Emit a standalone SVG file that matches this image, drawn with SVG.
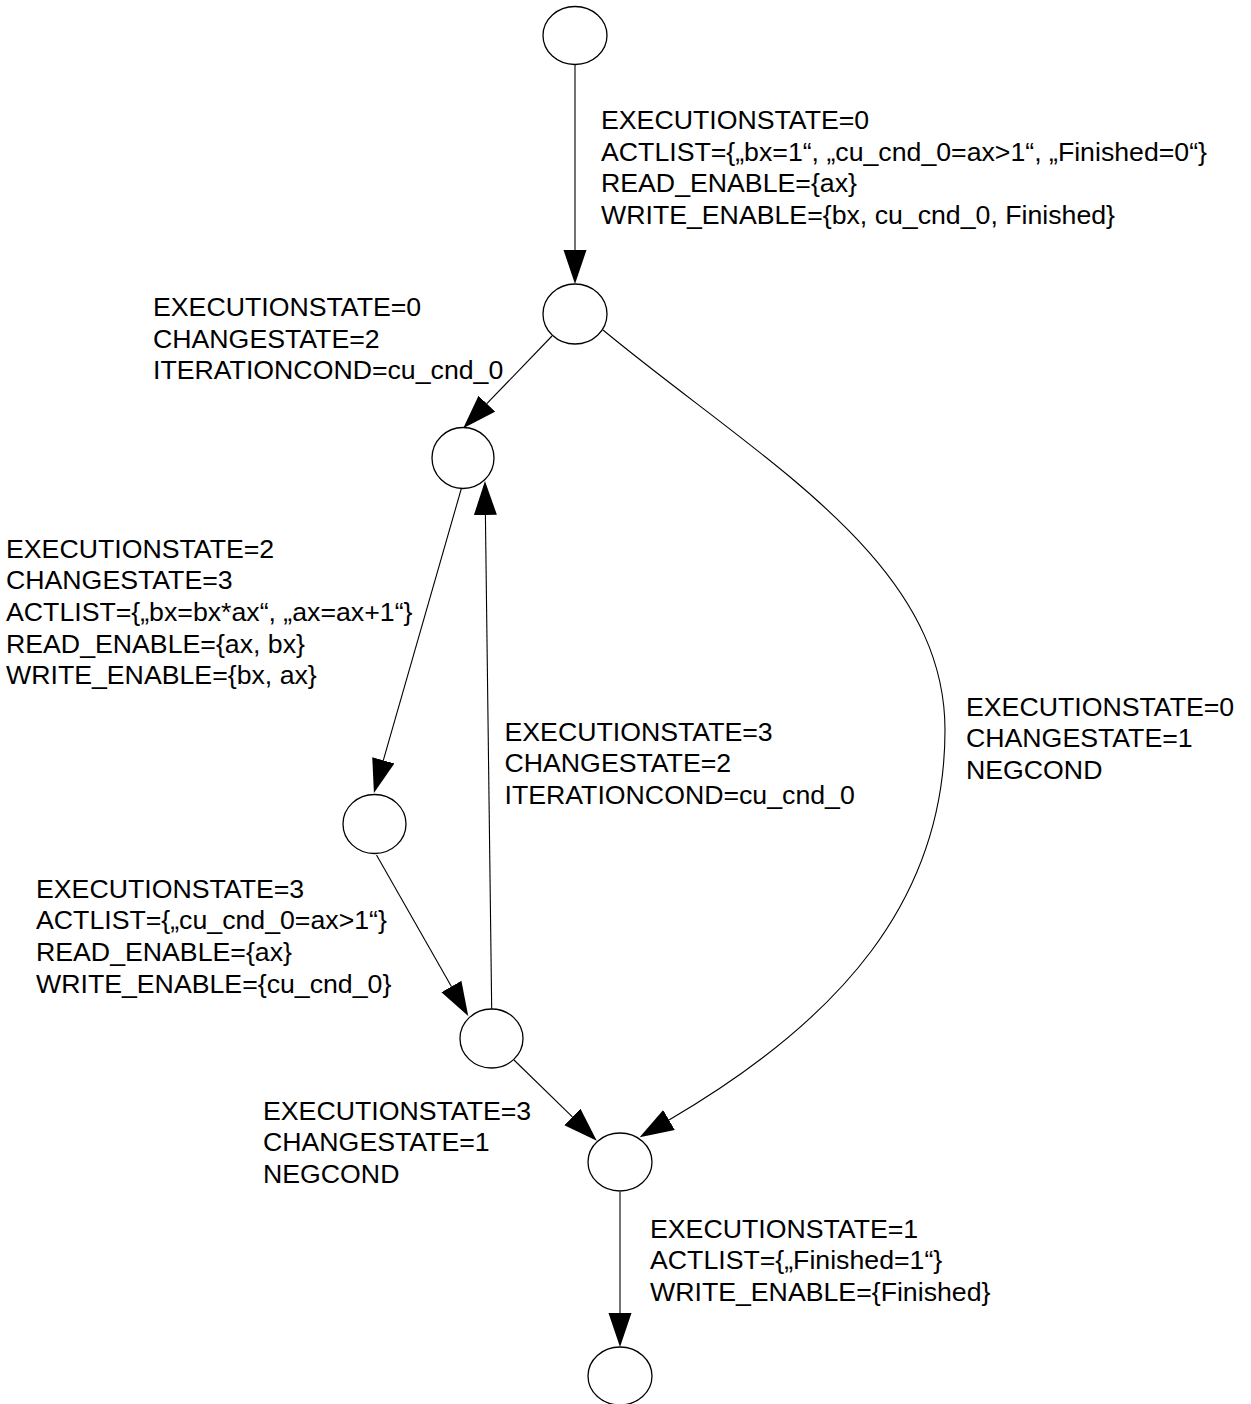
<svg xmlns="http://www.w3.org/2000/svg" width="1251" height="1404" viewBox="0 0 1251 1404">
  <style>
    .state { fill: #ffffff; stroke: #000000; stroke-width: 1.3; }
    .edge { fill: none; stroke: #000000; stroke-width: 1.1; }
    .label { font-family: "Liberation Sans", Arial, sans-serif; font-size: 26.7px; fill: #000000; }
  </style>
  <defs>
    <marker id="arrow" markerUnits="userSpaceOnUse" markerWidth="36" markerHeight="25" refX="0" refY="11.5" orient="auto">
      <path d="M0,0 L34,11.5 L0,23 Z" fill="#000000"/>
    </marker>
  </defs>
  <rect x="0" y="0" width="1251" height="1404" fill="#ffffff"/>

  <!-- transitions -->
  <g id="edges">
    <path id="e_start_s0" class="edge" d="M575,65 L575,250" marker-end="url(#arrow)"/>
    <path id="e_s0_s2" class="edge" d="M552,336 L486.8,403.7" marker-end="url(#arrow)"/>
    <path id="e_s2_s3" class="edge" d="M461.5,488 L383.3,760.3" marker-end="url(#arrow)"/>
    <path id="e_s3b_s2" class="edge" d="M491.7,1009 L485.4,515" marker-end="url(#arrow)"/>
    <path id="e_s3_s3b" class="edge" d="M376.5,855 L451.4,986.5" marker-end="url(#arrow)"/>
    <path id="e_s3b_s1" class="edge" d="M514,1060 L572.4,1116.9" marker-end="url(#arrow)"/>
    <path id="e_s0_s1" class="edge" d="M603,330 C760,460 945,560 945,730 C945,900 840,1020 669,1120" marker-end="url(#arrow)"/>
    <path id="e_s1_end" class="edge" d="M620,1192 L620,1313" marker-end="url(#arrow)"/>
  </g>

  <!-- states -->
  <g id="n_start"><ellipse class="state" cx="575" cy="35.5" rx="32" ry="29"/></g>
  <g id="n_s0"><ellipse class="state" cx="575" cy="314" rx="32" ry="30"/></g>
  <g id="n_s2"><ellipse class="state" cx="463" cy="458" rx="31" ry="30.5"/></g>
  <g id="n_s3"><ellipse class="state" cx="374.5" cy="824" rx="31.5" ry="29.5"/></g>
  <g id="n_s3b"><ellipse class="state" cx="491.5" cy="1038.5" rx="31.5" ry="29.5"/></g>
  <g id="n_s1"><ellipse class="state" cx="620" cy="1162" rx="32" ry="29"/></g>
  <g id="n_end"><ellipse class="state" cx="620" cy="1376" rx="32" ry="29"/></g>

  <!-- transition labels -->
  <g id="labels">
    <text class="label" x="601" y="129">
      <tspan x="601">EXECUTIONSTATE=0</tspan>
      <tspan x="601" dy="31.7">ACTLIST={„bx=1“, „cu_cnd_0=ax&gt;1“, „Finished=0“}</tspan>
      <tspan x="601" dy="31.7">READ_ENABLE={ax}</tspan>
      <tspan x="601" dy="31.7">WRITE_ENABLE={bx, cu_cnd_0, Finished}</tspan>
    </text>
    <text class="label" x="153" y="316">
      <tspan x="153">EXECUTIONSTATE=0</tspan>
      <tspan x="153" dy="31.7">CHANGESTATE=2</tspan>
      <tspan x="153" dy="31.7">ITERATIONCOND=cu_cnd_0</tspan>
    </text>
    <text class="label" x="6" y="557.5">
      <tspan x="6">EXECUTIONSTATE=2</tspan>
      <tspan x="6" dy="31.7">CHANGESTATE=3</tspan>
      <tspan x="6" dy="31.7">ACTLIST={„bx=bx*ax“, „ax=ax+1“}</tspan>
      <tspan x="6" dy="31.7">READ_ENABLE={ax, bx}</tspan>
      <tspan x="6" dy="31.7">WRITE_ENABLE={bx, ax}</tspan>
    </text>
    <text class="label" x="504.5" y="740.5">
      <tspan x="504.5">EXECUTIONSTATE=3</tspan>
      <tspan x="504.5" dy="31.7">CHANGESTATE=2</tspan>
      <tspan x="504.5" dy="31.7">ITERATIONCOND=cu_cnd_0</tspan>
    </text>
    <text class="label" x="966" y="715.5">
      <tspan x="966">EXECUTIONSTATE=0</tspan>
      <tspan x="966" dy="31.7">CHANGESTATE=1</tspan>
      <tspan x="966" dy="31.7">NEGCOND</tspan>
    </text>
    <text class="label" x="36" y="897.5">
      <tspan x="36">EXECUTIONSTATE=3</tspan>
      <tspan x="36" dy="31.7">ACTLIST={„cu_cnd_0=ax&gt;1“}</tspan>
      <tspan x="36" dy="31.7">READ_ENABLE={ax}</tspan>
      <tspan x="36" dy="31.7">WRITE_ENABLE={cu_cnd_0}</tspan>
    </text>
    <text class="label" x="263" y="1119.5">
      <tspan x="263">EXECUTIONSTATE=3</tspan>
      <tspan x="263" dy="31.7">CHANGESTATE=1</tspan>
      <tspan x="263" dy="31.7">NEGCOND</tspan>
    </text>
    <text class="label" x="650" y="1237.5">
      <tspan x="650">EXECUTIONSTATE=1</tspan>
      <tspan x="650" dy="31.7">ACTLIST={„Finished=1“}</tspan>
      <tspan x="650" dy="31.7">WRITE_ENABLE={Finished}</tspan>
    </text>
  </g>
</svg>
